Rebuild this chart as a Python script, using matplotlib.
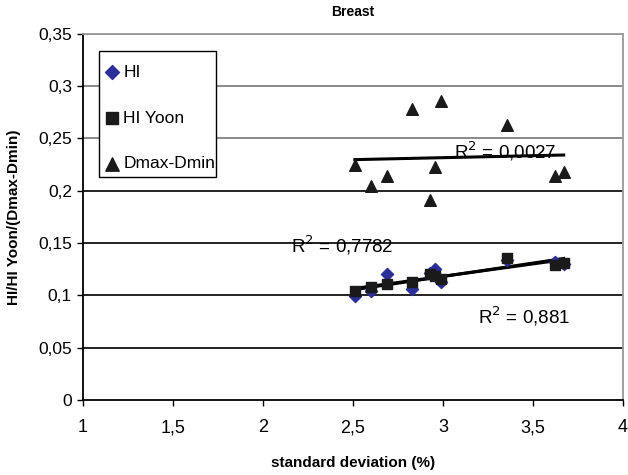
import matplotlib
matplotlib.use("Agg")
import matplotlib.pyplot as plt
from matplotlib.patches import Rectangle
import numpy as np

plt.rcParams["font.family"] = ["Liberation Sans", "DejaVu Sans"]

# standard deviation (%) per plan
sd = [2.51, 2.60, 2.69, 2.83, 2.93, 2.955, 2.99, 3.355, 3.62, 3.67]

hi = [0.099, 0.104, 0.120, 0.106, 0.121, 0.125, 0.113, 0.134, 0.132, 0.130]
hi_yoon = [0.1045, 0.108, 0.111, 0.1125, 0.120, 0.118, 0.116, 0.1355, 0.129, 0.131]
dmax_dmin = [0.225, 0.204, 0.214, 0.278, 0.191, 0.223, 0.286, 0.263, 0.214, 0.218]

r2_labels = ["0,7782", "0,881", "0,0027"]
x_ticks = [1, 1.5, 2, 2.5, 3, 3.5, 4]
x_ticklabels = ["1", "1,5", "2", "2,5", "3", "3,5", "4"]
y_ticks = [0, 0.05, 0.1, 0.15, 0.2, 0.25, 0.3, 0.35]
y_ticklabels = ["0", "0,05", "0,1", "0,15", "0,2", "0,25", "0,3", "0,35"]

fig = plt.figure(figsize=(6.28, 4.75), dpi=100)
ax = fig.add_axes([0.1322, 0.158, 0.86, 0.771])
ax.set_xlim(1, 4)
ax.set_ylim(0, 0.35)

# gridlines (upper ones come out lighter in the original scan)
for v in y_ticks[1:]:
    col = "#777777" if v >= 0.25 else "#111111"
    ax.axhline(v, color=col, lw=1.3 if v < 0.25 else 1.2, zorder=1)

# trend lines: linear fit of each series over its x-range
sd_arr = np.array(sd)
xs = np.array([sd_arr.min(), sd_arr.max()])
for ys in (hi, hi_yoon, dmax_dmin):
    k, b = np.polyfit(sd_arr, ys, 1)
    ax.plot(xs, k * xs + b, color="black", lw=2.2, zorder=3)

ax.scatter(sd, hi, marker="D", s=38, color="#2b2f9a", zorder=4, label="HI")
ax.scatter(sd, hi_yoon, marker="s", s=55, color="#1a1a1a", zorder=5, label="HI Yoon")
ax.scatter(sd, dmax_dmin, marker="^", s=70, color="#1a1a1a", zorder=5, label="Dmax-Dmin")

ax.text(2.44, 0.148, f"R$^2$ = {r2_labels[0]}", fontsize=13.5, ha="center", va="center", zorder=6)
ax.text(3.45, 0.080, f"R$^2$ = {r2_labels[1]}", fontsize=13.5, ha="center", va="center", zorder=6)
ax.text(3.345, 0.2375, f"R$^2$ = {r2_labels[2]}", fontsize=13.5, ha="center", va="center", zorder=2)

ax.set_xticks(x_ticks)
ax.set_xticklabels(x_ticklabels, fontsize=13)
ax.set_yticks(y_ticks)
ax.set_yticklabels(y_ticklabels, fontsize=12.5)
ax.tick_params(direction="out", length=4, width=1, color="black", pad=4)
ax.tick_params(axis="x", pad=10)

for s in ("left", "bottom"):
    ax.spines[s].set_color("black")
    ax.spines[s].set_linewidth(1.3)
for s in ("top", "right"):
    ax.spines[s].set_color("#999999")
    ax.spines[s].set_linewidth(1.3)

ax.set_title("Breast", fontsize=10, fontweight="bold", pad=13)
ax.set_xlabel("standard deviation (%)", fontsize=11, fontweight="bold", labelpad=14)
ax.set_ylabel("HI/HI Yoon/(Dmax-Dmin)", fontsize=11, fontweight="bold", labelpad=12)

# legend entries without frame; the frame is drawn separately so the
# long label can run over its right edge like in the original
leg = ax.legend(loc="upper left", bbox_to_anchor=(0.033, 0.915), frameon=False,
                fontsize=12.5, handletextpad=0.0, labelspacing=1.75,
                borderpad=0, handlelength=1.3, borderaxespad=0, markerscale=1.15)
leg.set_zorder(8)
box = Rectangle((0.0296, 0.6085), 0.2161, 0.3431, transform=ax.transAxes,
                facecolor="white", edgecolor="black", lw=1.0, zorder=7)
ax.add_patch(box)

fig.savefig("out.png", dpi=100)
